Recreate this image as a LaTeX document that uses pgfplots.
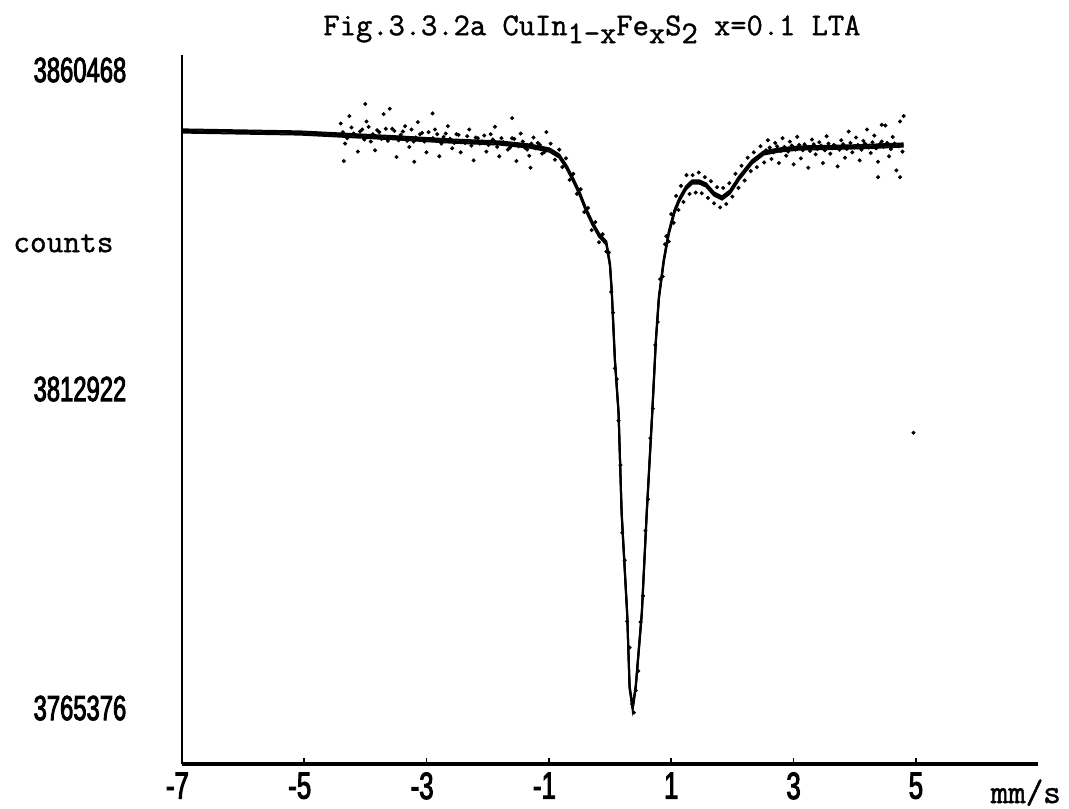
\documentclass[border=0pt]{standalone}
\usepackage{pgfplots}
\pgfplotsset{compat=1.18}
\usepackage{fontspec}
\setmainfont{Liberation Serif}
\newfontfamily\numfont[FakeStretch=0.68,FakeBold=2.5]{Liberation Sans}
\newfontfamily\monofont[FakeBold=1.2]{Latin Modern Mono}

\pgfplotstableread{
x y
-7.00 3851.38
-5.07 3851.08
-3.44 3850.33
-2.62 3849.89
-1.81 3849.59
-1.32 3849.14
-0.99 3848.54
-0.83 3847.65
-0.71 3846.01
-0.60 3844.07
-0.50 3842.13
-0.39 3839.60
-0.29 3837.66
-0.18 3835.87
-0.06 3834.68
0.00 3831.40
0.03 3827.23
0.08 3817.24
0.14 3809.34
0.19 3794.44
0.28 3779.53
0.32 3768.50
0.37 3765.37
0.42 3768.50
0.52 3779.53
0.60 3794.44
0.69 3809.34
0.75 3820.22
0.80 3826.63
0.88 3832.15
0.96 3836.17
1.05 3839.30
1.13 3841.09
1.24 3842.88
1.34 3843.77
1.46 3843.77
1.57 3843.33
1.70 3841.99
1.83 3841.39
1.96 3842.28
2.11 3844.37
2.32 3846.76
2.51 3848.10
2.76 3848.54
3.09 3848.84
3.90 3848.99
4.39 3849.14
4.80 3849.29
}\fitdata

\pgfplotstableread{
x y
-4.40 3852.5
-4.33 3849.5
-4.26 3853.6
-4.19 3851.0
-4.12 3848.3
-4.05 3851.6
-3.98 3852.8
-3.91 3849.8
-3.84 3848.5
-3.77 3851.2
-3.70 3853.9
-3.63 3849.9
-3.56 3851.7
-3.49 3847.5
-3.42 3850.8
-3.35 3852.1
-3.28 3849.0
-3.21 3849.8
-3.14 3852.7
-3.07 3851.1
-3.00 3848.2
-2.93 3850.1
-2.86 3851.6
-2.79 3847.6
-2.72 3850.5
-2.65 3852.1
-2.58 3848.8
-2.51 3850.9
-2.44 3848.2
-2.37 3849.6
-2.30 3851.6
-2.23 3847.0
-2.16 3850.3
-2.09 3849.8
-2.02 3848.3
-1.95 3850.9
-1.88 3852.0
-1.81 3847.6
-1.74 3849.7
-1.67 3848.6
-1.60 3850.3
-1.53 3846.9
-1.46 3851.0
-1.39 3848.9
-1.32 3847.7
-1.25 3850.4
-1.18 3849.6
-1.11 3848.0
-1.04 3851.2
-4.00 3855.4
-3.60 3854.7
-2.90 3854.0
-1.60 3853.3
-4.35 3846.9
-3.20 3846.8
-1.30 3845.9
-4.365 3851.2
-4.295 3850.3
-4.225 3851.9
-4.155 3850.6
-4.085 3851.3
-4.015 3850.1
-3.945 3852.0
-3.875 3850.9
-3.805 3851.5
-3.735 3850.2
-3.665 3851.7
-3.595 3850.5
-3.525 3851.4
-3.455 3850.0
-3.385 3851.3
-3.315 3849.9
-3.245 3851.6
-3.175 3850.4
-3.105 3850.9
-3.035 3849.8
-2.965 3851.2
-2.895 3850.3
-2.825 3850.9
-2.755 3849.5
-2.685 3851.0
-2.615 3850.2
-2.545 3849.6
-2.475 3850.8
-2.405 3849.9
-2.335 3850.6
-2.265 3849.2
-2.195 3850.4
-2.125 3849.5
-2.055 3850.7
-1.985 3849.3
-1.915 3850.1
-1.845 3849.0
-1.775 3850.3
-1.705 3849.6
-1.635 3848.9
-1.565 3850.2
-1.495 3849.1
-1.425 3849.8
-1.355 3848.6
-1.285 3849.5
-1.215 3848.8
-1.145 3849.3
-1.075 3848.2
-0.97 3849.5
-0.90 3847.1
-0.83 3848.6
-0.78 3846.0
-0.72 3847.3
-0.66 3844.1
-0.60 3845.0
-0.54 3842.0
-0.48 3842.7
-0.42 3839.3
-0.36 3839.9
-0.30 3836.6
-0.24 3837.8
-0.18 3834.8
-0.12 3836.0
-0.06 3833.4
-0.02 3833.3
0.02 3827.4
0.05 3824.3
0.08 3816.0
0.11 3814.4
0.14 3808.2
0.17 3801.6
0.20 3791.5
0.24 3787.4
0.28 3778.3
0.32 3774.4
0.36 3766.0
0.39 3764.7
0.42 3768.0
0.46 3770.9
0.50 3778.2
0.54 3782.1
0.58 3791.8
0.62 3796.5
0.66 3805.6
0.70 3810.0
0.74 3819.5
0.78 3822.9
0.82 3829.3
0.86 3829.7
0.90 3834.5
0.92 3835.7
0.96 3834.9
1.00 3839.0
1.04 3837.7
1.08 3841.7
1.12 3839.6
1.16 3843.2
1.20 3840.8
1.25 3844.8
1.30 3842.0
1.35 3844.8
1.40 3842.2
1.45 3845.2
1.50 3842.1
1.55 3844.5
1.60 3841.4
1.65 3843.9
1.70 3840.6
1.75 3843.0
1.80 3840.0
1.85 3842.9
1.90 3840.5
1.95 3843.6
2.00 3841.6
2.05 3845.0
2.10 3842.9
2.15 3846.2
2.20 3844.0
2.25 3847.4
2.30 3845.4
2.35 3848.2
2.40 3846.0
2.46 3849.1
2.52 3846.7
2.58 3850.0
2.64 3847.2
2.70 3849.6
2.76 3846.6
2.82 3850.3
2.88 3847.7
2.94 3849.8
3.00 3846.4
3.06 3850.5
3.12 3847.3
3.18 3849.4
3.24 3845.9
3.30 3850.1
3.36 3847.9
3.42 3849.7
3.48 3846.6
3.54 3850.6
3.60 3848.0
3.66 3849.3
3.72 3846.1
3.78 3850.0
3.84 3847.4
3.90 3851.3
3.96 3848.2
4.02 3850.4
4.08 3847.0
4.14 3849.9
4.20 3851.6
4.26 3848.1
4.32 3850.7
4.38 3846.8
4.44 3849.8
4.50 3852.2
4.56 3847.6
4.62 3850.5
4.68 3845.5
4.74 3852.8
4.78 3848.3
4.80 3853.6
4.44 3852.3
4.38 3844.5
4.74 3844.5
4.96 3806.4
2.55 3848.5
2.61 3848.9
2.67 3848.2
2.73 3849.1
2.79 3848.4
2.85 3849.0
2.91 3848.3
2.97 3849.2
3.03 3848.6
3.09 3849.3
3.15 3848.5
3.21 3849.0
3.27 3848.4
3.33 3849.4
3.39 3848.7
3.45 3849.2
3.51 3848.5
3.57 3849.5
3.63 3848.8
3.69 3849.1
3.75 3848.6
3.81 3849.4
3.87 3848.7
3.93 3849.6
3.99 3848.9
4.05 3849.3
4.11 3848.6
4.17 3849.5
4.23 3848.9
4.29 3849.7
4.35 3848.8
4.41 3849.4
4.47 3849.0
4.53 3849.6
4.59 3848.7
4.65 3849.5
4.71 3849.1
}\scatterdata

\begin{document}
\begin{tikzpicture}
\begin{axis}[
  scale only axis,
  width=428.3pt, height=354.5pt,
  xmin=-7, xmax=7,
  ymin=3757.03, ymax=3862.7,
  enlargelimits=false,
  clip=false,
  axis x line=bottom, axis y line=left,
  x axis line style={-, line width=2pt},
  y axis line style={-, line width=0.9pt},
  xtick={-7,-5,-3,-1,1,3,5},
  xticklabels={\llap{-}7,\llap{-}5,\llap{-}3,\llap{-}1,1,3,5},
  ytick={3765.376,3812.922,3860.468},
  yticklabels={3765376,3812922,3860468},
  x tick style={line width=0.8pt, black},
  major tick length=3pt,
  tick align=inside,
  y tick style={draw=none},
  xticklabel style={font=\numfont\fontsize{19}{20}\selectfont, anchor=north, inner sep=0pt, yshift=-4pt},
  yticklabel style={font=\numfont\fontsize{17.5}{18}\selectfont, anchor=east, inner sep=0pt, xshift=-27.5pt},
]
\addplot[only marks, mark=*, mark size=0.8pt, black] table[x=x,y=y] {\scatterdata};
\addplot[black, line width=1pt] table[x=x,y=y] {\fitdata};
\addplot[black, line width=1pt, yshift=0.8pt] table[x=x,y=y] {\fitdata};
\addplot[black, line width=1pt, yshift=-0.8pt] table[x=x,y=y] {\fitdata};

\node[anchor=base west, inner sep=0pt, font=\monofont\fontsize{15.8}{16}\selectfont]
  at (rel axis cs:0.165,1.028) {Fig.3.3.2a CuIn\raisebox{-4pt}{1-x}Fe\raisebox{-4pt}{x}S\raisebox{-4pt}{2} x=0.1 LTA};
\node[anchor=base west, inner sep=0pt, font=\monofont\fontsize{16.2}{17}\selectfont]
  at (rel axis cs:-0.197,0.722) {counts};
\node[anchor=base west, inner sep=0pt, font=\monofont\fontsize{17}{18}\selectfont]
  at (rel axis cs:0.944,-0.055) {mm/s};
\coordinate (BBA) at (rel axis cs:-0.2121,1.0776);
\coordinate (BBB) at (rel axis cs:1.0358,-0.0621);
\end{axis}
\pgfresetboundingbox
\path[use as bounding box] (BBA) rectangle (BBB);
\end{tikzpicture}
\end{document}
